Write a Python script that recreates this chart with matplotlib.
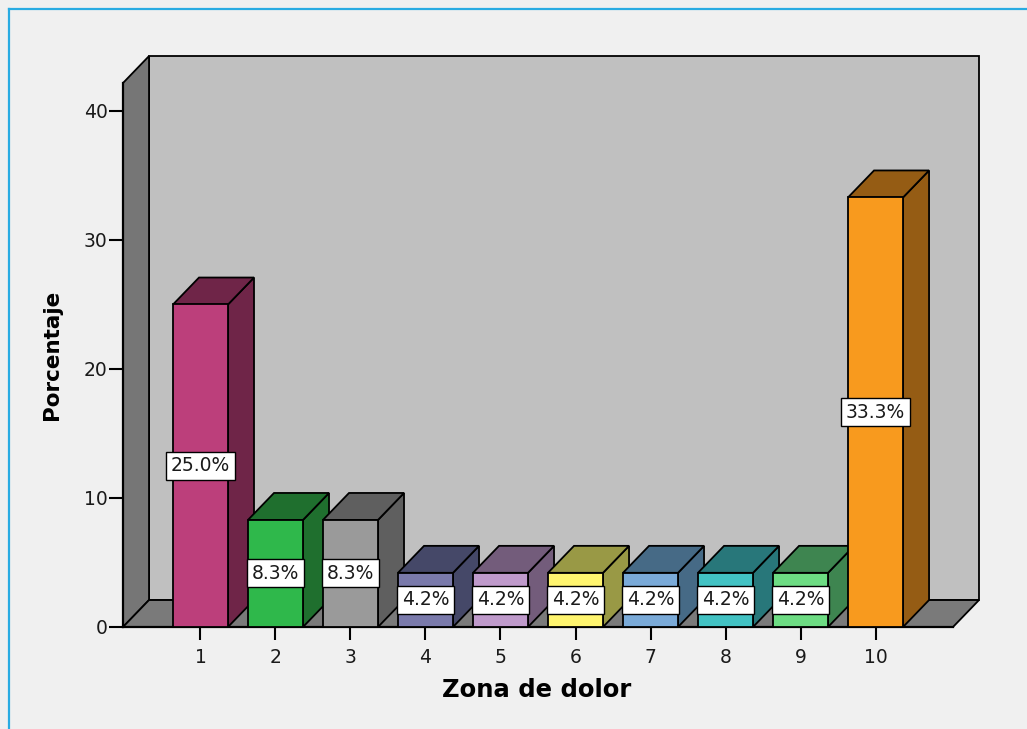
import numpy as np
import matplotlib
matplotlib.use("Agg")
import matplotlib.pyplot as plt
from matplotlib.patches import Polygon
from matplotlib.lines import Line2D

# Zona de dolor (1..10) and percentage of cases
zonas = [1, 2, 3, 4, 5, 6, 7, 8, 9, 10]
porcentaje = [25.0, 8.3, 8.3, 4.2, 4.2, 4.2, 4.2, 4.2, 4.2, 33.3]
etiquetas = ["25.0%", "8.3%", "8.3%", "4.2%", "4.2%", "4.2%", "4.2%", "4.2%", "4.2%", "33.3%"]

front_colors = ["#bc3f7b", "#2fb84b", "#9a9a9a", "#7a7aab", "#bf9acb",
                "#fff56f", "#7aaad8", "#42c2c3", "#6ddc83", "#f89a1e"]
side_colors = ["#6f2548", "#1f6f2e", "#5f5f5f", "#454868", "#735c7b",
               "#999945", "#466a86", "#28777a", "#3e8550", "#955c14"]

W, H = 1027, 729
fig = plt.figure(figsize=(W / 100, H / 100), dpi=100)
fig.patch.set_facecolor("#f0f0f0")

# axes box = front face of the floor / left wall
ax = fig.add_axes([123 / W, (H - 627) / H, 830 / W, 544 / H])
ax.set_facecolor("none")

x0, x1 = -0.033, 11.033
ytop = 42.17
ax.set_xlim(x0, x1)
ax.set_ylim(0, ytop)

# depth offset of the 3D effect, in data units
dx, dy = 0.347, 2.09
edge = dict(edgecolor="black", linewidth=1.3, clip_on=False)

# walls and floor
ax.add_patch(Polygon([(x0, 0), (x0, ytop), (x0 + dx, ytop + dy), (x0 + dx, dy)],
                     facecolor="#767676", zorder=1, **edge))
ax.add_patch(Polygon([(x0 + dx, dy), (x1 + dx, dy), (x1 + dx, ytop + dy), (x0 + dx, ytop + dy)],
                     facecolor="#c0c0c0", zorder=0.9, **edge))
ax.add_patch(Polygon([(x0, 0), (x1, 0), (x1 + dx, dy), (x0 + dx, dy)],
                     facecolor="#7a7a7a", zorder=1.1, **edge))

# bars: front face through ax.bar, side and top as polygons
w = 55 / 75
bars = ax.bar(zonas, porcentaje, width=w, color=front_colors,
              edgecolor="black", linewidth=1.3)
for i, (b, v) in enumerate(zip(bars, porcentaje)):
    xl = b.get_x()
    xr = xl + b.get_width()
    z = 3 + i * 0.1
    b.set_zorder(z + 0.05)
    ax.add_patch(Polygon([(xr, 0), (xr + dx, dy), (xr + dx, v + dy), (xr, v)],
                         facecolor=side_colors[i], zorder=z, **edge))
    ax.add_patch(Polygon([(xl, v), (xr, v), (xr + dx, v + dy), (xl + dx, v + dy)],
                         facecolor=side_colors[i], zorder=z, **edge))
    ax.text(b.get_x() + b.get_width() / 2, v / 2, etiquetas[i],
            ha="center", va="center", fontsize=13.5, color="#1a1a1a", zorder=10,
            bbox=dict(boxstyle="square,pad=0.24", facecolor="white",
                      edgecolor="black", linewidth=1.0))

# axes and ticks
for s in ["top", "right"]:
    ax.spines[s].set_visible(False)
for s in ["left", "bottom"]:
    ax.spines[s].set_linewidth(1.6)
    ax.spines[s].set_zorder(2)
ax.set_yticks([0, 10, 20, 30, 40])
ax.set_xticks(zonas)
ax.tick_params(axis="y", direction="out", length=10, width=1.5, pad=1,
               labelsize=13.5, labelcolor="#1a1a1a")
ax.tick_params(axis="x", direction="out", length=9, width=1.5, pad=6,
               labelsize=13.5, labelcolor="#1a1a1a")

ax.set_xlabel("Zona de dolor", fontsize=17.5, fontweight="bold")
ax.set_ylabel("Porcentaje", fontsize=15.5, fontweight="bold")
ax.xaxis.set_label_coords((537 - 123) / 830, (627 - 690) / 544)
ax.xaxis.label.set_va("center")
ax.yaxis.set_label_coords((52 - 123) / 830, (627 - 355) / 544)
ax.yaxis.label.set_va("center")

# blue frame on the left and top
fig.add_artist(Line2D([9 / W, 9 / W], [0, 1 - 9 / H], transform=fig.transFigure,
                      color="#29abe2", linewidth=1.6))
fig.add_artist(Line2D([9 / W, 1], [1 - 9 / H, 1 - 9 / H], transform=fig.transFigure,
                      color="#29abe2", linewidth=1.6))

fig.savefig("out.png", dpi=100, facecolor=fig.get_facecolor())
